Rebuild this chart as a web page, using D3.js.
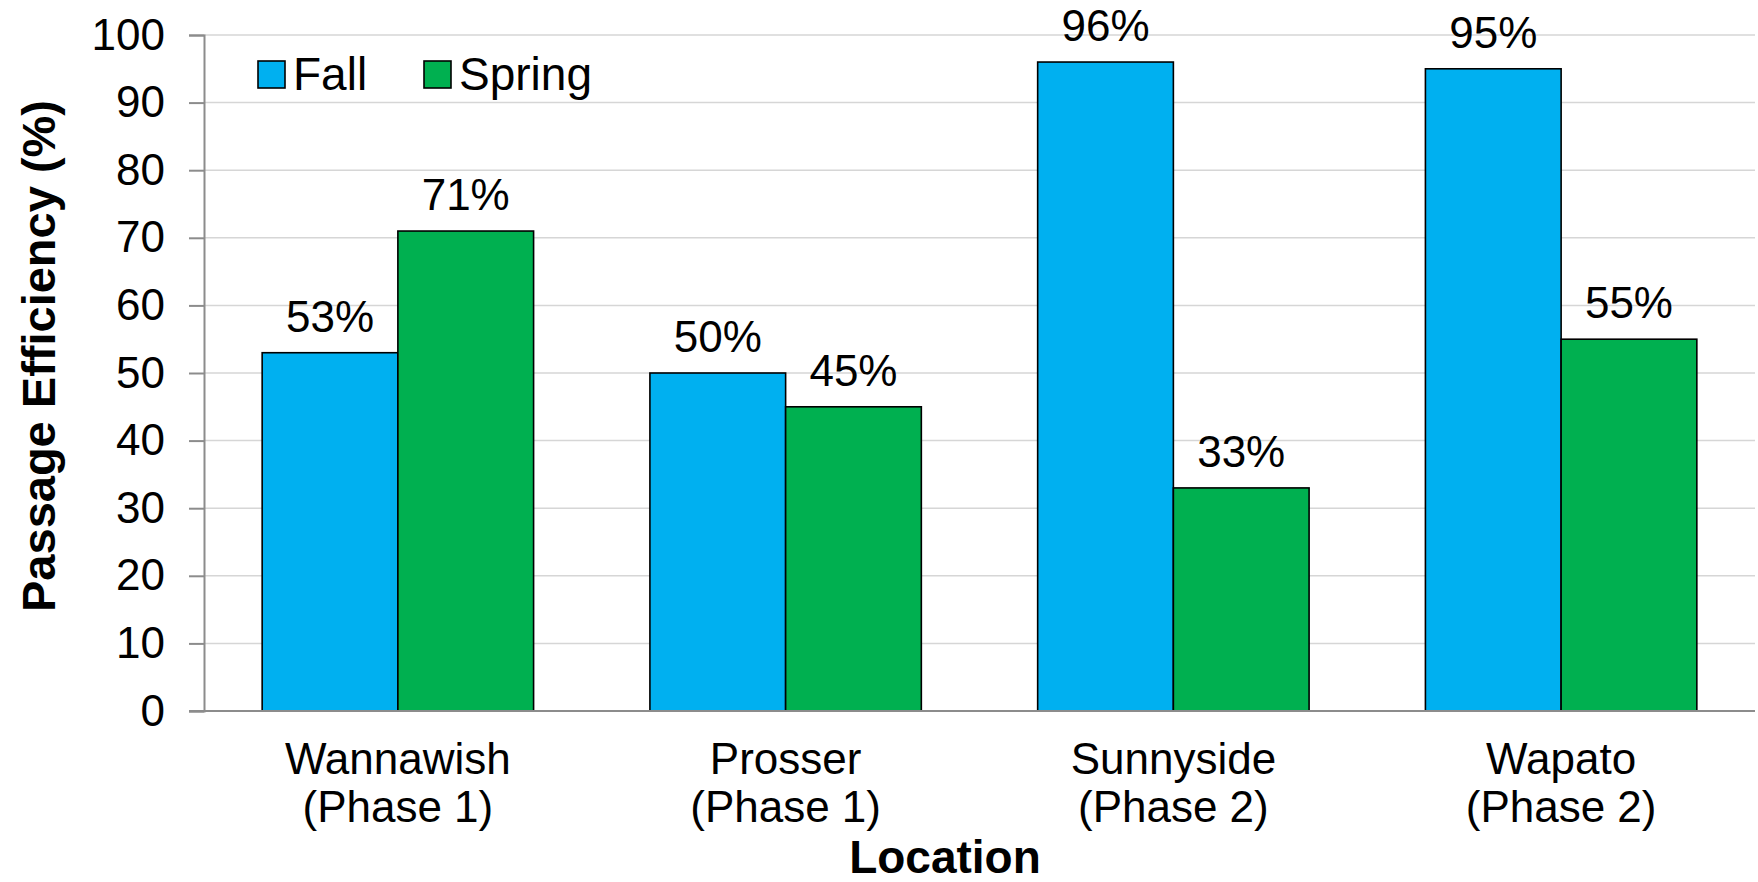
<!DOCTYPE html>
<html>
<head>
<meta charset="utf-8">
<script src="https://cdn.jsdelivr.net/npm/d3@7"></script>
<style>
  html, body { margin: 0; padding: 0; background: #fff; }
  svg text { font-family: "Liberation Sans", Arial, sans-serif; fill: #000; }
</style>
</head>
<body>
<svg id="chart" width="1758" height="882"></svg>
<script>
// Passage efficiency by location and season
const locations = ["Wannawish", "Prosser", "Sunnyside", "Wapato"];
const phases = ["(Phase 1)", "(Phase 1)", "(Phase 2)", "(Phase 2)"];
const seasons = ["Fall", "Spring"];
const fallValues = [53, 50, 96, 95];
const springValues = [71, 45, 33, 55];
const yTicks = [0, 10, 20, 30, 40, 50, 60, 70, 80, 90, 100];
const seasonColors = ["#00B0F0", "#00B050"];

const svg = d3.select("#chart");
const margin = { left: 204, right: 3, top: 35, bottom: 171 };
const W = 1758, H = 882;
const plotW = W - margin.left - margin.right;
const plotH = H - margin.top - margin.bottom;

const g = svg.append("g").attr("transform", `translate(${margin.left},${margin.top})`);

const x0 = d3.scaleBand().domain(locations).range([0, plotW]).paddingInner(0.3).paddingOuter(0.15);
const x1 = d3.scaleBand().domain(seasons).range([0, x0.bandwidth()]);
const y = d3.scaleLinear().domain([0, 100]).range([plotH, 0]);

// horizontal gridlines
g.append("g").selectAll("line").data(yTicks.filter(d => d > 0)).join("line")
  .attr("x1", 0).attr("x2", plotW)
  .attr("y1", d => y(d)).attr("y2", d => y(d))
  .attr("stroke", "#d6d6d6").attr("stroke-width", 1.5);

// y axis
const yAxis = d3.axisLeft(y).tickValues(yTicks).tickSize(15).tickPadding(24).tickFormat(d3.format("d"));
const ya = g.append("g").call(yAxis);
ya.select(".domain").attr("stroke", "#8c8c8c").attr("stroke-width", 2);
ya.selectAll(".tick line").attr("stroke", "#8c8c8c").attr("stroke-width", 2);
ya.selectAll(".tick text").attr("font-size", 44).attr("font-family", "Liberation Sans, Arial, sans-serif").attr("fill", "#000");

// bars
const rows = locations.map((loc, i) => ({ loc, vals: [fallValues[i], springValues[i]] }));
const groups = g.append("g").selectAll("g").data(rows).join("g")
  .attr("transform", d => `translate(${x0(d.loc)},0)`);

groups.selectAll("rect").data(d => d.vals.map((v, j) => ({ s: seasons[j], v, j }))).join("rect")
  .attr("x", d => x1(d.s)).attr("width", x1.bandwidth())
  .attr("y", d => y(d.v)).attr("height", d => y(0) - y(d.v))
  .attr("fill", d => seasonColors[d.j]).attr("stroke", "#000").attr("stroke-width", 1.6);

groups.selectAll("text.val").data(d => d.vals.map((v, j) => ({ s: seasons[j], v }))).join("text")
  .attr("class", "val")
  .attr("x", d => x1(d.s) + x1.bandwidth() / 2)
  .attr("y", d => y(d.v) - 21)
  .attr("text-anchor", "middle").attr("font-size", 44)
  .text(d => d.v + "%");

// x axis baseline
g.append("line").attr("x1", -15).attr("x2", plotW).attr("y1", y(0)).attr("y2", y(0))
  .attr("stroke", "#8c8c8c").attr("stroke-width", 2);

// category labels, two lines each
const catX = d => x0(d) + x0.bandwidth() / 2;
const catG = g.append("g");
catG.selectAll("text.loc").data(locations).join("text")
  .attr("class", "loc").attr("text-anchor", "middle").attr("font-size", 44)
  .attr("x", catX).attr("y", y(0) + 63).text(d => d);
catG.selectAll("text.phase").data(locations).join("text")
  .attr("class", "phase").attr("text-anchor", "middle").attr("font-size", 44)
  .attr("x", catX).attr("y", y(0) + 111).text((d, i) => phases[i]);

// axis titles
svg.append("text").attr("text-anchor", "middle").attr("font-size", 47).attr("font-weight", "bold")
  .attr("transform", "translate(55,356) rotate(-90)")
  .text("Passage Efficiency (%)");
svg.append("text").attr("text-anchor", "middle").attr("font-size", 46).attr("font-weight", "bold")
  .attr("x", 945).attr("y", 873)
  .text("Location");

// legend
const legendX = [258, 424];
const legend = svg.append("g").selectAll("g").data(seasons).join("g")
  .attr("transform", (d, i) => `translate(${legendX[i]},61)`);
legend.append("rect").attr("width", 27).attr("height", 27)
  .attr("fill", (d, i) => seasonColors[i]).attr("stroke", "#000").attr("stroke-width", 1.6);
legend.append("text").attr("x", 35).attr("y", 29).attr("font-size", 46).text(d => d);
</script>
</body>
</html>
